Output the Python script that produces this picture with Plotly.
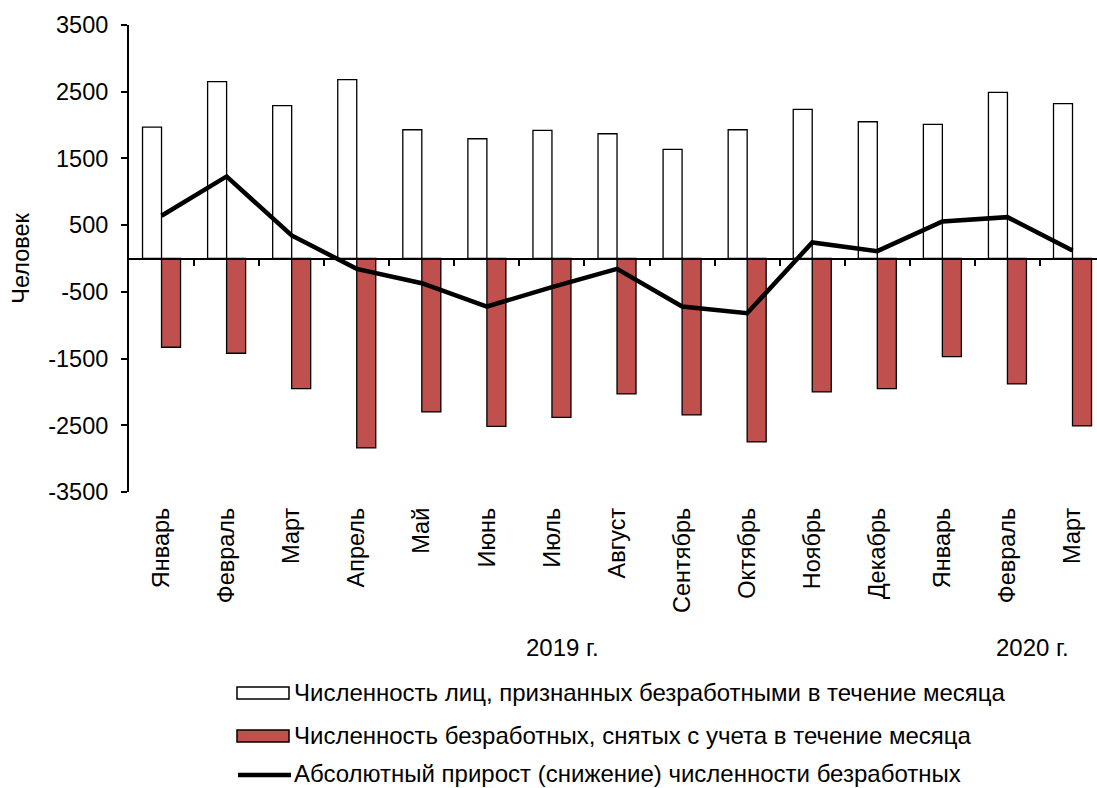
import plotly.graph_objects as go

months = ["Январь", "Февраль", "Март", "Апрель", "Май", "Июнь", "Июль", "Август",
          "Сентябрь", "Октябрь", "Ноябрь", "Декабрь", "Январь", "Февраль", "Март"]
recognized = [1970, 2650, 2290, 2680, 1930, 1795, 1920, 1870, 1635, 1930, 2235, 2050, 2010, 2490, 2320]
removed = [-1330, -1420, -1950, -2840, -2300, -2515, -2380, -2030, -2345, -2750, -2000, -1950, -1470, -1880, -2510]
net_change = [640, 1230, 345, -155, -370, -720, -430, -155, -720, -820, 240, 110, 555, 620, 120]
year_labels = ["2019 г.", "2020 г."]
legend_names = [
    "Численность лиц, признанных безработными в течение месяца",
    "Численность безработных, снятых с учета в течение месяца",
    "Абсолютный прирост (снижение) численности безработных",
]
y_ticks = [-3500, -2500, -1500, -500, 500, 1500, 2500, 3500]
y_ticktext = [str(v) for v in y_ticks]

FONT = "Liberation Sans, Arial, sans-serif"
FS = 23.5
FL = 24
RED = "#C0504D"

W, H = 1097, 788
ML, MR, MT, MB = 129, 0, 25, 296
PW, PH = W - ML - MR, H - MT - MB


def px(xp):
    return (xp - ML) / PW


def py(yp):
    return (H - MB - yp) / PH


xs = list(range(len(months)))

fig = go.Figure()
fig.add_trace(go.Bar(x=xs, y=recognized, name=legend_names[0], marker=dict(color="white", line=dict(color="black", width=1.3)), showlegend=False))
fig.add_trace(go.Bar(x=xs, y=removed, name=legend_names[1], marker=dict(color=RED, line=dict(color="black", width=1.3)), showlegend=False))
fig.add_trace(go.Scatter(x=xs, y=net_change, mode="lines", name=legend_names[2], line=dict(color="black", width=4.5), showlegend=False))
# invisible helper trace so the zero-level category axis is drawn
fig.add_trace(go.Scatter(x=[0], y=[0], xaxis="x2", mode="markers", marker=dict(opacity=0), showlegend=False, hoverinfo="skip"))

xr = [-0.5, -0.5 + PW / 65.07]

fig.update_layout(
    width=W, height=H,
    margin=dict(l=ML, r=MR, t=MT, b=MB),
    paper_bgcolor="white", plot_bgcolor="white",
    font=dict(family=FONT, size=FS, color="black"),
    barmode="group", bargap=0.416, bargroupgap=0,
    xaxis=dict(range=xr, tickvals=xs, ticktext=months, tickangle=-90, ticks="",
               showline=False, showgrid=False, zeroline=False,
               ticklabelstandoff=10, tickfont=dict(size=FS)),
    xaxis2=dict(range=xr, overlaying="x", anchor="free", position=0.5,
                showline=True, linecolor="black", linewidth=2,
                ticks="outside", ticklen=6, tickwidth=2, tickcolor="black",
                tickvals=[i + 0.5 for i in xs], showticklabels=False,
                showgrid=False, zeroline=False),
    yaxis=dict(range=[-3500, 3500], tickvals=y_ticks, ticktext=y_ticktext, showline=True, linecolor="black",
               linewidth=2, ticks="outside", ticklen=6, tickwidth=2, tickcolor="black",
               ticklabelstandoff=8,
               showgrid=False, zeroline=False, tickfont=dict(size=FS),
               title=dict(text="Человек", font=dict(size=FS), standoff=12)),
)

# year labels
fig.add_annotation(x=px(562), y=py(647), xref="paper", yref="paper", text=year_labels[0],
                   showarrow=False, xanchor="center", yanchor="middle", font=dict(size=FL))
fig.add_annotation(x=px(1032), y=py(647), xref="paper", yref="paper", text=year_labels[1],
                   showarrow=False, xanchor="center", yanchor="middle", font=dict(size=FL))

# custom legend
rows = [692, 735, 773]
fig.add_shape(type="rect", xref="paper", yref="paper", x0=px(237), x1=px(289), y0=py(687), y1=py(699),
              fillcolor="white", line=dict(color="black", width=1.5))
fig.add_shape(type="rect", xref="paper", yref="paper", x0=px(237), x1=px(289), y0=py(730), y1=py(742),
              fillcolor=RED, line=dict(color="black", width=1.5))
fig.add_shape(type="line", xref="paper", yref="paper", x0=px(238), x1=px(291), y0=py(775), y1=py(775),
              line=dict(color="black", width=4.5))
for name, r in zip(legend_names, rows):
    fig.add_annotation(x=px(292), y=py(r), xref="paper", yref="paper", text=name, showarrow=False,
                       xanchor="left", yanchor="middle", font=dict(size=FL))

fig.write_html("out.html", config={"displayModeBar": False},
               post_script="document.body.style.margin='0px';document.body.style.overflow='hidden';")
